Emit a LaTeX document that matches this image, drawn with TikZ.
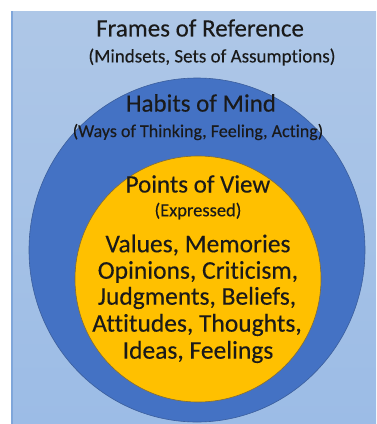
\documentclass[tikz,border=0pt]{standalone}
\usepackage{fontspec}
\setmainfont{Carlito}[Ligatures={NoCommon,NoRare},FakeBold=0.25]
\definecolor{bgtop}{HTML}{AEC7E7}
\definecolor{bgbot}{HTML}{9CBCE6}
\definecolor{bgedge}{HTML}{7FA6DA}
\definecolor{midblue}{HTML}{4472C4}
\definecolor{midblueline}{HTML}{3B5E9C}
\definecolor{gold}{HTML}{FFC000}
\definecolor{goldline}{HTML}{7F6B3A}
\definecolor{ink}{HTML}{1A1A1A}
\begin{document}
\begin{tikzpicture}[x=1pt,y=-1pt,
  txt/.style={text=ink,inner sep=0pt,anchor=center},
  head/.style={txt,font=\fontsize{25}{27}\selectfont},
  big/.style={txt,font=\fontsize{25.5}{27}\selectfont},
  mid/.style={txt,font=\fontsize{19}{21}\selectfont},
  small/.style={txt,font=\fontsize{18.5}{20}\selectfont}]
\useasboundingbox (0,0) rectangle (376,424);
\fill[white] (0,0) rectangle (376,424);
\shade[top color=bgtop,bottom color=bgbot] (11,11) rectangle (376,424);
\draw[bgedge,line width=1.5pt] (11.75,11) -- (11.75,424);
\draw[midblueline,line width=0.6pt,fill=midblue] (197,250) ellipse [x radius=168,y radius=172];
\draw[goldline,line width=0.6pt,fill=gold] (198,279) circle [radius=123];
\node[head] (frames) at (200,28) {Frames of Reference};
\node[mid] (framessub) at (212,57) {(Mindsets, Sets of Assumptions)};
\node[head] (habits) at (201,103) {Habits of Mind};
\node[txt,font=\fontsize{18}{20}\selectfont] (habitssub) at (198,132) {(Ways of Thinking, Feeling, Acting)};
\node[head] (points) at (198,184) {Points of View};
\node[small] (pointssub) at (198,211) {(Expressed)};
\node[big] (l1) at (198,245) {Values, Memories};
\node[big] (l2) at (198,272) {Opinions, Criticism,};
\node[big] (l3) at (197,298) {Judgments, Beliefs,};
\node[big] (l4) at (197,325) {Attitudes, Thoughts,};
\node[big] (l5) at (198,352) {Ideas, Feelings};
\end{tikzpicture}
\end{document}
